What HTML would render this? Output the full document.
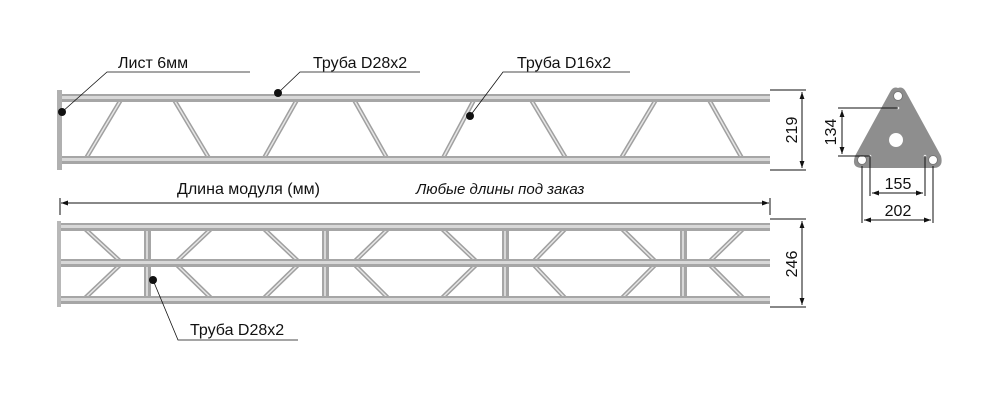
<!DOCTYPE html>
<html><head><meta charset="utf-8"><style>
html,body{margin:0;padding:0;background:#fff;}
svg{display:block;}
text{font-family:"Liberation Sans",sans-serif;fill:#111;}
</style></head><body>
<svg width="1000" height="407" viewBox="0 0 1000 407" xmlns="http://www.w3.org/2000/svg">
<defs>
<marker id="ar" viewBox="0 0 10 10" refX="10" refY="5" markerWidth="7" markerHeight="7" orient="auto-start-reverse"><path d="M0,1.5 L10,5 L0,8.5 z" fill="#111"/></marker>
</defs>
<!-- TOP TRUSS -->
<g stroke-linecap="butt">
<g stroke="#a0a0a0" stroke-width="4.5">
<line x1="85" y1="160" x2="122" y2="98"/><line x1="173" y1="98" x2="210" y2="160"/>
<line x1="263" y1="160" x2="298" y2="98"/><line x1="353" y1="98" x2="388" y2="160"/>
<line x1="442" y1="160" x2="475" y2="98"/><line x1="530" y1="98" x2="567" y2="160"/>
<line x1="620" y1="160" x2="657" y2="98"/><line x1="708" y1="98" x2="743" y2="160"/>
</g>
<g stroke="#e6e6e6" stroke-width="1.5">
<line x1="85" y1="160" x2="122" y2="98"/><line x1="173" y1="98" x2="210" y2="160"/>
<line x1="263" y1="160" x2="298" y2="98"/><line x1="353" y1="98" x2="388" y2="160"/>
<line x1="442" y1="160" x2="475" y2="98"/><line x1="530" y1="98" x2="567" y2="160"/>
<line x1="620" y1="160" x2="657" y2="98"/><line x1="708" y1="98" x2="743" y2="160"/>
</g>
<rect x="60" y="94" width="710" height="8" fill="#a6a6a6"/><rect x="60" y="96" width="710" height="3" fill="#d8d8d8"/>
<rect x="60" y="156" width="710" height="8" fill="#a6a6a6"/><rect x="60" y="158" width="710" height="3" fill="#d8d8d8"/>
<rect x="57" y="90" width="5" height="80" fill="#b0b0b0"/>
</g>
<!-- BOTTOM TRUSS -->
<g>
<g stroke="#a0a0a0" stroke-width="4.5">
<path d="M83,227 L122,263 L83,300 M213,227 L175,263 L213,300 M262,227 L300,263 L262,300 M390,227 L353,263 L390,300 M440,227 L478,263 L440,300 M567,227 L532,263 L567,300 M620,227 L657,263 L620,300 M745,227 L708,263 L745,300" fill="none"/>
</g>
<g stroke="#e6e6e6" stroke-width="1.5">
<path d="M83,227 L122,263 L83,300 M213,227 L175,263 L213,300 M262,227 L300,263 L262,300 M390,227 L353,263 L390,300 M440,227 L478,263 L440,300 M567,227 L532,263 L567,300 M620,227 L657,263 L620,300 M745,227 L708,263 L745,300" fill="none"/>
</g>
<g fill="#a6a6a6"><rect x="144" y="225" width="7" height="78"/><rect x="322" y="225" width="7" height="78"/><rect x="502" y="225" width="7" height="78"/><rect x="680" y="225" width="7" height="78"/></g>
<g fill="#d8d8d8"><rect x="146" y="225" width="2" height="78"/><rect x="324" y="225" width="2" height="78"/><rect x="504" y="225" width="2" height="78"/><rect x="682" y="225" width="2" height="78"/></g>
<rect x="60" y="223" width="710" height="8" fill="#a6a6a6"/><rect x="60" y="225" width="710" height="3" fill="#d8d8d8"/>
<rect x="60" y="259" width="710" height="8" fill="#a6a6a6"/><rect x="60" y="261" width="710" height="3" fill="#d8d8d8"/>
<rect x="60" y="296" width="710" height="8" fill="#a6a6a6"/><rect x="60" y="298" width="710" height="3" fill="#d8d8d8"/>
<rect x="57" y="221" width="4" height="86" fill="#b8b8b8"/>
</g>
<!-- dims -->
<g stroke="#111" stroke-width="1" fill="none">
<line x1="770" y1="90" x2="806" y2="90"/><line x1="770" y1="170" x2="806" y2="170"/>
<line x1="802" y1="92" x2="802" y2="168" marker-start="url(#ar)" marker-end="url(#ar)"/>
<line x1="770" y1="219" x2="806" y2="219"/><line x1="770" y1="307" x2="806" y2="307"/>
<line x1="802" y1="221" x2="802" y2="305" marker-start="url(#ar)" marker-end="url(#ar)"/>
<line x1="61" y1="203" x2="769" y2="203" marker-start="url(#ar)" marker-end="url(#ar)"/>
<line x1="60" y1="198" x2="60" y2="215"/><line x1="770" y1="198" x2="770" y2="215"/>
</g>
<text transform="translate(797,130) rotate(-90)" text-anchor="middle" font-size="16">219</text>
<text transform="translate(797,264) rotate(-90)" text-anchor="middle" font-size="16">246</text>
<text x="177" y="194" font-size="16">Длина модуля (мм)</text>
<text x="416" y="194" font-size="15" font-style="italic">Любые длины под заказ</text>
<!-- labels -->
<g stroke="#111" stroke-width="0.8" fill="none">
<polyline points="62,112 107,72 250,72"/>
<polyline points="278,93 300,72 420,72"/>
<polyline points="470,116 503,72 630,72"/>
<polyline points="153,280 178,340 298,340"/>
</g>
<g fill="#111"><circle cx="62" cy="112" r="4"/><circle cx="278" cy="93" r="4"/><circle cx="470" cy="116" r="4"/><circle cx="153" cy="280" r="4"/></g>
<text x="118" y="68" font-size="16">Лист 6мм</text>
<text x="313" y="68" font-size="16">Труба D28x2</text>
<text x="517" y="68" font-size="16">Труба D16x2</text>
<text x="190" y="335" font-size="16">Труба D28x2</text>
<!-- plate -->
<path d="M898,88 Q903,86 906,92 L941,156 Q944,168 933,168 L862,168 Q851,168 855,156 L890,92 Q893,86 898,88 z" fill="#8e8e8e"/>
<circle cx="898" cy="96" r="4.5" fill="#fff" stroke="#777"/>
<circle cx="862" cy="160" r="4.5" fill="#fff" stroke="#777"/>
<circle cx="933" cy="160" r="4.5" fill="#fff" stroke="#777"/>
<circle cx="896" cy="140" r="7" fill="#fff"/>
<g fill="#eee"><circle cx="898" cy="108" r="1.3"/><circle cx="870" cy="156" r="1.3"/><circle cx="925" cy="156" r="1.3"/></g>
<g stroke="#111" stroke-width="1" fill="none">
<line x1="838" y1="108" x2="898" y2="108"/><line x1="838" y1="156" x2="870" y2="156"/>
<line x1="842" y1="110" x2="842" y2="154" marker-start="url(#ar)" marker-end="url(#ar)"/>
<line x1="870" y1="156" x2="870" y2="196"/><line x1="925" y1="156" x2="925" y2="196"/>
<line x1="872" y1="193" x2="923" y2="193" marker-start="url(#ar)" marker-end="url(#ar)"/>
<line x1="862" y1="166" x2="862" y2="223"/><line x1="933" y1="166" x2="933" y2="223"/>
<line x1="864" y1="220" x2="931" y2="220" marker-start="url(#ar)" marker-end="url(#ar)"/>
</g>
<text transform="translate(836,132) rotate(-90)" text-anchor="middle" font-size="16">134</text>
<text x="898" y="189" text-anchor="middle" font-size="16">155</text>
<text x="898" y="216" text-anchor="middle" font-size="16">202</text>
</svg>
</body></html>
